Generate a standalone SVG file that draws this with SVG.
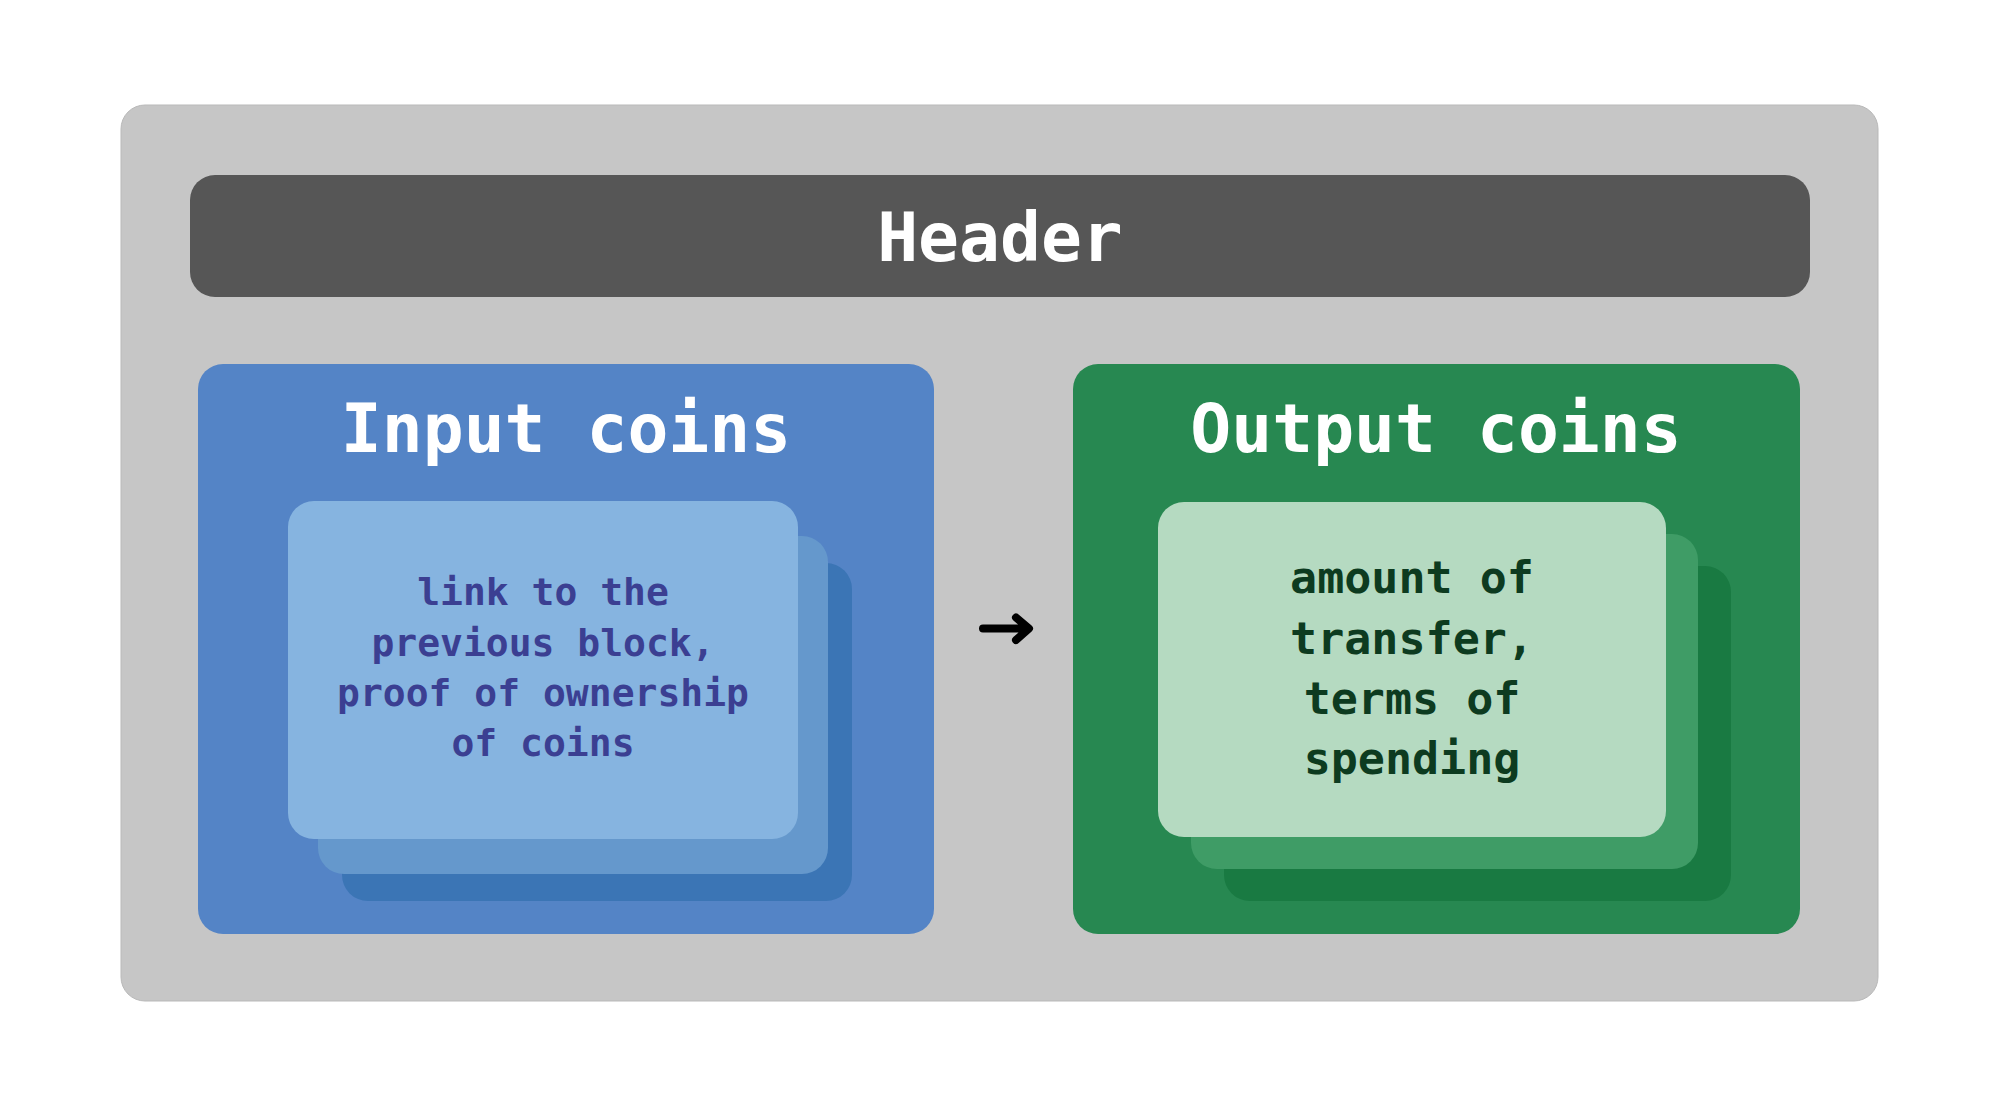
<svg xmlns="http://www.w3.org/2000/svg" width="1999" height="1106" viewBox="0 0 1999 1106">
  <style>
    .mono { font-family: "DejaVu Sans Mono", "Liberation Mono", monospace; font-weight: bold; text-anchor: middle; }
    .title { font-size: 68px; fill: #ffffff; }
    .intext { font-size: 38px; fill: #3b3f92; }
    .outtext { font-size: 45px; fill: #0d3b20; }
  </style>
  <rect width="1999" height="1106" fill="#ffffff"/>
  <g id="block">
    <rect x="121" y="105" width="1757" height="896" rx="24" fill="#c6c6c6" stroke="#b9b9b9" stroke-width="1"/>
  </g>
  <g id="header">
    <rect x="190" y="175" width="1620" height="122" rx="25" fill="#565656"/>
    <text class="mono" x="1000" y="261" font-size="68" fill="#ffffff">Header</text>
  </g>
  <g id="input-coins">
    <rect x="198" y="364" width="736" height="570" rx="25" fill="#5484c6"/>
    <text class="mono title" x="566" y="452">Input coins</text>
    <rect x="342" y="563" width="510" height="338" rx="26" fill="#3b75b5"/>
    <rect x="318" y="536" width="510" height="338" rx="26" fill="#6598cc"/>
    <rect x="288" y="501" width="510" height="338" rx="26" fill="#86b4e0"/>
    <text class="mono intext" x="543" y="605">link to the</text>
    <text class="mono intext" x="543" y="656">previous block,</text>
    <text class="mono intext" x="543" y="706">proof of ownership</text>
    <text class="mono intext" x="543" y="756">of coins</text>
  </g>
  <g id="output-coins">
    <rect x="1073" y="364" width="727" height="570" rx="25" fill="#278851"/>
    <text class="mono title" x="1436" y="452">Output coins</text>
    <rect x="1224" y="566" width="507" height="335" rx="26" fill="#197a42"/>
    <rect x="1191" y="534" width="507" height="335" rx="26" fill="#3f9c66"/>
    <rect x="1158" y="502" width="508" height="335" rx="26" fill="#b5dac1"/>
    <text class="mono outtext" x="1412" y="593">amount of</text>
    <text class="mono outtext" x="1412" y="654">transfer,</text>
    <text class="mono outtext" x="1412" y="714">terms of</text>
    <text class="mono outtext" x="1412" y="774">spending</text>
  </g>
  <g id="connectors">
    <path d="M983 628.5 H1028 M1016 617.5 L1029 628.5 L1016 640" fill="none" stroke="#000000" stroke-width="8" stroke-linecap="round" stroke-linejoin="round"/>
  </g>
</svg>
